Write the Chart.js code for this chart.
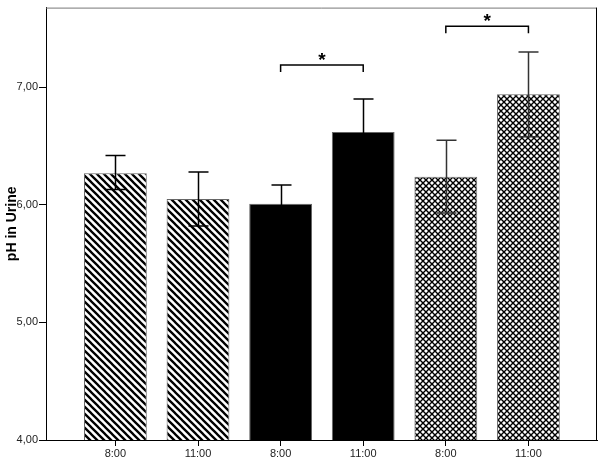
<!DOCTYPE html>
<html>
<head>
<meta charset="utf-8">
<script src="https://cdn.jsdelivr.net/npm/chart.js@4"></script>
<style>
  html, body { margin: 0; padding: 0; background: #fff; }
  #wrap { width: 600px; height: 458px; }
</style>
</head>
<body>
<div id="wrap"><canvas id="grafico"></canvas></div>
<script>
// ---- datos ----
const horas = ["8:00", "11:00", "8:00", "11:00", "8:00", "11:00"];
const medias = [6.27, 6.05, 6.01, 6.62, 6.24, 6.94];
const errSup = [6.42, 6.28, 6.17, 6.90, 6.55, 7.30];
const errInf = [6.13, 5.82, 5.85, 6.34, 5.93, 6.58];
const rellenos = ["rayas", "rayas", "negro", "negro", "rejilla", "rejilla"];
const ticksY = [4, 5, 6, 7];

// corchetes de significancia
const corDesde = [2, 4];
const corHasta = [3, 5];
const corAltura = [7.19, 7.52];
const corPunta = [7.13, 7.46];
const corEstrella = [7.26, 7.59];

// ---- patrones ----
function patronRayas() {
  const c = document.createElement("canvas");
  c.width = 7; c.height = 7;
  const g = c.getContext("2d");
  g.fillStyle = "#fff";
  g.fillRect(0, 0, 7, 7);
  g.strokeStyle = "#000";
  g.lineWidth = 2.3;
  g.beginPath();
  g.moveTo(-1, -1); g.lineTo(8, 8);
  g.moveTo(-8, -1); g.lineTo(1, 8);
  g.moveTo(6, -1); g.lineTo(15, 8);
  g.stroke();
  return g.createPattern(c, "repeat");
}

function patronRejilla() {
  const c = document.createElement("canvas");
  c.width = 6; c.height = 6;
  const g = c.getContext("2d");
  g.fillStyle = "#fff";
  g.fillRect(0, 0, 6, 6);
  g.strokeStyle = "#000";
  g.lineWidth = 1.4;
  g.beginPath();
  g.moveTo(-1, -1); g.lineTo(7, 7);
  g.moveTo(-1, 7); g.lineTo(7, -1);
  g.stroke();
  return g.createPattern(c, "repeat");
}

const pRayas = patronRayas();
const pRejilla = patronRejilla();
const colores = rellenos.map(r => r === "rayas" ? pRayas : r === "rejilla" ? pRejilla : "#000");

const fmt = v => v.toFixed(2).replace(".", ",");

// ---- plugins ----
const marco = {
  id: "marco",
  beforeDatasetsDraw(chart) {
    const a = chart.chartArea, ctx = chart.ctx;
    ctx.save();
    ctx.strokeStyle = "#777";
    ctx.lineWidth = 1;
    ctx.beginPath();
    ctx.moveTo(a.left, a.top + 0.5);
    ctx.lineTo(a.right - 0.5, a.top + 0.5);
    ctx.stroke();
    ctx.strokeStyle = "#000";
    ctx.beginPath();
    ctx.moveTo(a.right - 0.5, a.top);
    ctx.lineTo(a.right - 0.5, a.bottom);
    ctx.stroke();
    ctx.restore();
  }
};

const barrasError = {
  id: "barrasError",
  afterDatasetsDraw(chart) {
    const ctx = chart.ctx, ys = chart.scales.y;
    const meta = chart.getDatasetMeta(0);
    ctx.save();
    meta.data.forEach((bar, i) => {
      const x = Math.round(bar.x) + 0.5;
      const yS = ys.getPixelForValue(errSup[i]);
      const yI = ys.getPixelForValue(errInf[i]);
      ctx.strokeStyle = rellenos[i] === "rejilla" ? "#333" : "#000";
      ctx.lineWidth = 1.5;
      ctx.beginPath();
      ctx.moveTo(x, yS); ctx.lineTo(x, yI);
      ctx.moveTo(x - 10, yS); ctx.lineTo(x + 10, yS);
      ctx.moveTo(x - 10, yI); ctx.lineTo(x + 10, yI);
      ctx.stroke();
    });
    ctx.restore();
  }
};

const corchetes = {
  id: "corchetes",
  afterDatasetsDraw(chart) {
    const ctx = chart.ctx, xs = chart.scales.x, ys = chart.scales.y;
    ctx.save();
    ctx.strokeStyle = "#000";
    ctx.lineWidth = 1.5;
    ctx.fillStyle = "#000";
    ctx.font = "bold 19px 'Liberation Sans', Arial, sans-serif";
    ctx.textAlign = "center";
    ctx.textBaseline = "middle";
    corDesde.forEach((d, i) => {
      const x1 = xs.getPixelForValue(d);
      const x2 = xs.getPixelForValue(corHasta[i]);
      const y = ys.getPixelForValue(corAltura[i]);
      const yp = ys.getPixelForValue(corPunta[i]);
      ctx.beginPath();
      ctx.moveTo(x1, yp); ctx.lineTo(x1, y); ctx.lineTo(x2, y); ctx.lineTo(x2, yp);
      ctx.stroke();
      ctx.fillText("*", (x1 + x2) / 2, ys.getPixelForValue(corEstrella[i]) + 4);
    });
    ctx.restore();
  }
};

// ---- gráfico ----
new Chart(document.getElementById("grafico"), {
  type: "bar",
  data: {
    datasets: [{
      data: medias.map((m, i) => ({ x: i, y: m })),
      backgroundColor: colores,
      borderColor: "#666",
      borderWidth: 1,
      borderSkipped: "bottom",
      barPercentage: 0.76,
      categoryPercentage: 1
    }]
  },
  options: {
    responsive: true,
    maintainAspectRatio: false,
    animation: false,
    layout: { padding: { top: 6, right: 3, left: 0, bottom: 0 } },
    plugins: { legend: { display: false }, tooltip: { enabled: false } },
    scales: {
      x: {
        type: "linear",
        offset: false,
        min: -0.84,
        max: 5.83,
        afterBuildTicks: s => { s.ticks = horas.map((h, i) => ({ value: i })); },
        afterFit: s => { s.height = 18; },
        grid: { offset: false, drawOnChartArea: false, drawTicks: true, tickLength: 6, color: "#000" },
        border: { color: "#000", width: 1 },
        ticks: {
          stepSize: 1,
          includeBounds: false,
          callback: v => horas[v] ?? "",
          color: "#222",
          padding: 1,
          maxRotation: 0,
          autoSkip: false,
          font: { family: "'Liberation Sans', Arial, sans-serif", size: 11 }
        }
      },
      y: {
        min: 4,
        max: 7.678,
        afterBuildTicks: s => { s.ticks = ticksY.map(v => ({ value: v })); },
        afterFit: s => { s.width = 46; },
        grid: { drawOnChartArea: false, drawTicks: true, tickLength: 7, color: "#000" },
        border: { color: "#000", width: 1 },
        title: {
          display: true,
          text: "pH in Urine",
          color: "#000",
          padding: { top: 4, bottom: 0 },
          font: { family: "'Liberation Sans', Arial, sans-serif", size: 14, weight: "bold" }
        },
        ticks: {
          callback: v => fmt(v),
          color: "#222",
          padding: 1,
          font: { family: "'Liberation Sans', Arial, sans-serif", size: 11 }
        }
      }
    }
  },
  plugins: [marco, barrasError, corchetes]
});
</script>
</body>
</html>
